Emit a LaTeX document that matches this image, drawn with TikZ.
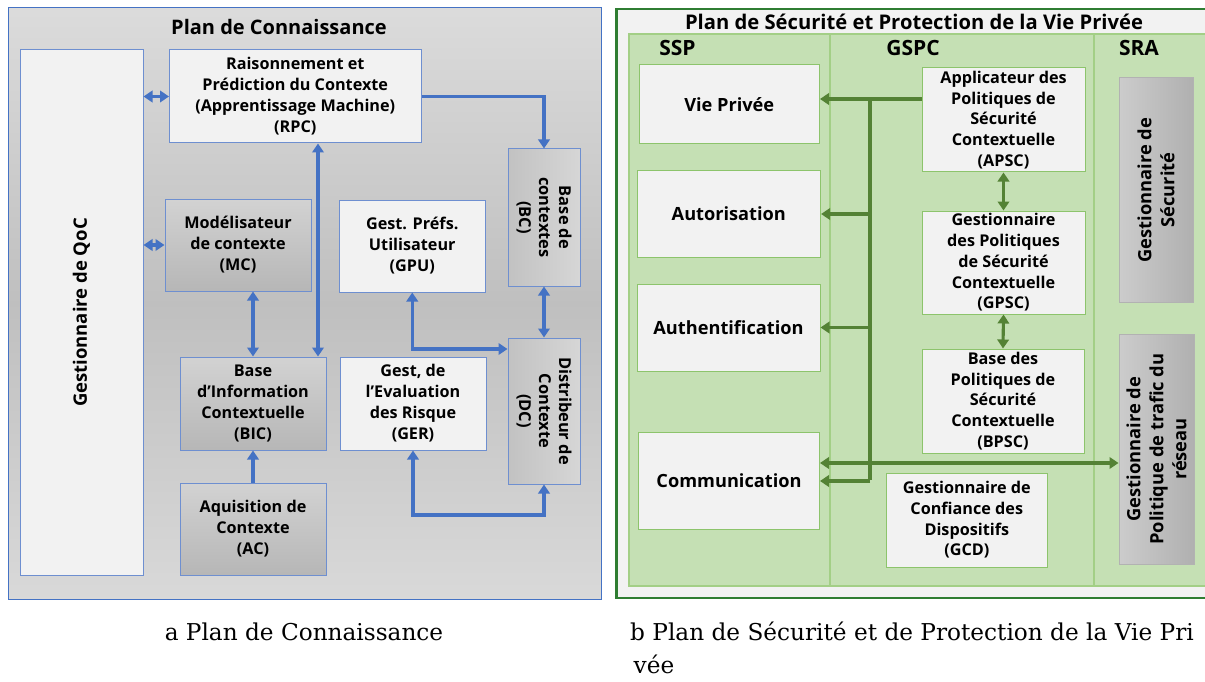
\documentclass[tikz,border=0pt]{standalone}
\usepackage{fontspec}
\newfontfamily\uifont{Open Sans}
\newfontfamily\capfont{DejaVu Serif}
\usetikzlibrary{arrows.meta}
\definecolor{arrblue}{HTML}{4472C4}
\definecolor{bbord}{HTML}{6E8FD0}
\definecolor{boxw}{HTML}{F2F2F2}
\definecolor{ggreen}{HTML}{548235}
\definecolor{gfill}{HTML}{C5E0B4}
\definecolor{gline}{HTML}{A3CF86}
\definecolor{gbord}{HTML}{8DC46C}
\definecolor{gframe}{HTML}{2F7D32}
\begin{document}
\begin{tikzpicture}[x=1pt,y=-1pt,
  every node/.style={inner sep=0pt, align=center},
  txt/.style={font=\uifont\bfseries\fontsize{16.2}{21}\selectfont},
  rtxt/.style={font=\uifont\bfseries\fontsize{16.2}{20.7}\selectfont},
  bigtxt/.style={font=\uifont\bfseries\fontsize{18.2}{22}\selectfont},
  hdr/.style={font=\uifont\bfseries\fontsize{21}{24}\selectfont},
  captxt/.style={font=\capfont\fontsize{23.2}{28}\selectfont},
  wbox/.style={draw=bbord, line width=1pt, fill=boxw},
  gbox/.style={draw=bbord, line width=1pt, top color=gray!35!white, bottom color=gray!57!white},
  hbox/.style={draw=bbord, line width=1pt, left color=gray!48!white, right color=gray!32!white},
  gwbox/.style={draw=gbord, line width=1pt, fill=boxw},
  sgbox/.style={draw=gray!60, line width=1pt, left color=gray!40!white, right color=gray!62!white},
  bar/.style={draw=arrblue, line width=3.1pt, -{Triangle[length=9pt,width=11.5pt]}},
  bdar/.style={draw=arrblue, line width=3.1pt, {Triangle[length=9pt,width=11.5pt]}-{Triangle[length=9pt,width=11.5pt]}},
  gar/.style={draw=ggreen, line width=3.1pt, -{Triangle[length=9pt,width=11.5pt]}},
  gdar/.style={draw=ggreen, line width=3.1pt, {Triangle[length=9pt,width=11.5pt]}-{Triangle[length=9pt,width=11.5pt]}},
  gl/.style={draw=ggreen, line width=3.1pt}
]
\useasboundingbox (0,0) rectangle (1205,682);
\fill[white] (0,0) rectangle (1205,682);

% ---------------- Left panel ----------------
\shade[top color=gray!28!white, bottom color=gray!30!white, middle color=gray!50!white] (8,8) rectangle (601,599);
\draw[draw=arrblue, line width=1pt] (8,8) rectangle (601,599);
\node[font=\uifont\bfseries\fontsize{20}{24}\selectfont] (t1) at (279,27) {Plan de Connaissance};

\node[wbox, minimum width=123, minimum height=525] (QoC) at (81.5,312.5) {};
\node[rotate=90, font=\uifont\bfseries\fontsize{18.5}{22}\selectfont] (QoCt) at (QoC.center) {Gestionnaire de QoC};

\node[wbox, txt, minimum width=251.5, minimum height=93] (RPC) at (295.25,96.5) {Raisonnement et\\Prédiction du Contexte\\(Apprentissage Machine)\\(RPC)};
\node[gbox, txt, minimum width=146, minimum height=92] (MC) at (238,245) {Modélisateur\\de contexte\\(MC)};
\node[wbox, txt, minimum width=145.5, minimum height=92] (GPU) at (412.25,246) {Gest. Préfs.\\Utilisateur\\(GPU)};
\node[hbox, minimum width=72, minimum height=137] (BC) at (544,217.5) {};
\node[rotate=-90, font=\uifont\bfseries\fontsize{16.4}{20}\selectfont] (BCt) at (BC.center) {Base de\\contextes\\(BC)};
\node[gbox, txt, minimum width=146, minimum height=93] (BIC) at (253,403.5) {Base\\d’Information\\Contextuelle\\(BIC)};
\node[gbox, txt, minimum width=146, minimum height=92] (AC) at (253,529) {Aquisition de\\Contexte\\(AC)};
\node[wbox, txt, minimum width=146, minimum height=93] (GER) at (413,403.5) {Gest, de\\l’Evaluation\\des Risque\\(GER)};
\node[hbox, minimum width=72, minimum height=146] (DC) at (544,411) {};
\node[rotate=-90, font=\uifont\bfseries\fontsize{16.4}{20}\selectfont] (DCt) at (DC.center) {Distribeur de\\Contexte\\(DC)};

\draw[bdar] (QoC.east |- RPC.west) -- (RPC.west);
\draw[bdar] (QoC.east |- MC.west) -- (MC.west);
\draw[bar] (RPC.east) -| (BC.north);
\coordinate (rb) at (318,0);
\draw[bdar] (rb |- RPC.south) -- (rb |- BIC.north);
\draw[bdar] (BIC.north |- MC.south) -- (BIC.north);
\draw[bar] (AC.north) -- (BIC.south);
\draw[bdar] (BC.south) -- (DC.north);
\coordinate (gd) at (0,349);
\draw[bdar] (GPU.south) |- (DC.west |- gd);
\coordinate (ge) at (0,515);
\draw[bdar] (GER.south) |- (DC.south |- ge) -- (DC.south);

% ---------------- Right panel ----------------
\draw[draw=gframe, line width=2.2pt, fill=boxw] (616.5,9) rectangle (1220,598);
\node[font=\uifont\bfseries\fontsize{20.2}{24}\selectfont] (t2) at (914,22) {Plan de Sécurité et Protection de la Vie Privée};
\draw[draw=gline, line width=1.2pt, fill=gfill] (629,34) rectangle (1220,586);
\draw[draw=gline, line width=1.2pt] (830,34) -- (830,586);
\draw[draw=gline, line width=1.2pt] (1094,34) -- (1094,586);
\node[hdr] (hSSP) at (677.5,48) {SSP};
\node[hdr] (hGSPC) at (913,48) {GSPC};
\node[hdr] (hSRA) at (1139,48) {SRA};

\node[gwbox, bigtxt, minimum width=180.5, minimum height=79] (VP) at (729.25,104.5) {Vie Privée};
\node[gwbox, bigtxt, minimum width=183.6, minimum height=86] (AUT) at (728.8,214) {Autorisation};
\node[gwbox, bigtxt, minimum width=183, minimum height=87] (AUTH) at (728.5,327.5) {Authentification};
\node[gwbox, bigtxt, minimum width=181, minimum height=97] (COM) at (729,480.5) {Communication};

\node[gwbox, rtxt, minimum width=163, minimum height=104] (APSC) at (1003.5,120) {Applicateur des\\Politiques de\\Sécurité\\Contextuelle\\(APSC)};
\node[gwbox, rtxt, minimum width=163, minimum height=103] (GPSC) at (1003.5,262.5) {Gestionnaire\\des Politiques\\de Sécurité\\Contextuelle\\(GPSC)};
\node[gwbox, rtxt, minimum width=162, minimum height=104] (BPSC) at (1003,401) {Base des\\Politiques de\\Sécurité\\Contextuelle\\(BPSC)};
\node[gwbox, rtxt, minimum width=161.6, minimum height=94] (GCD) at (966.8,520) {Gestionnaire de\\Confiance des\\Dispositifs\\(GCD)};

\node[sgbox, minimum width=74, minimum height=224] (GS) at (1156,190) {};
\node[rotate=90, font=\uifont\bfseries\fontsize{18.3}{23}\selectfont] (GSt) at (GS.center) {Gestionnaire de\\Sécurité};
\node[sgbox, minimum width=75, minimum height=230] (GPTR) at (1156.5,449) {};
\node[rotate=90, font=\uifont\bfseries\fontsize{18.3}{23}\selectfont] (GPTRt) at (GPTR.center) {Gestionnaire de\\Politique de trafic du\\réseau};

\coordinate (bt) at (870,99);
\coordinate (bb) at (870,481);
\coordinate (cl) at (0,463);
\draw[gl] (APSC.west |- bt) -- (bt);
\draw[gar] (bt) -- (VP.east |- bt);
\draw[gl] ([yshift=-1.5pt]bt) -- ([yshift=1.5pt]bb);
\draw[gar] (bt |- AUT.east) -- (AUT.east);
\draw[gar] (bt |- AUTH.east) -- (AUTH.east);
\draw[gar] (bb) -- (COM.east |- bb);
\draw[gdar] (COM.east |- cl) -- (GPTR.west |- cl);
\draw[gdar] (APSC.south) -- (GPSC.north);
\draw[gdar] (GPSC.south) -- (BPSC.north);

% ---------------- Captions ----------------
\node[captxt] (capa) at (304,632) {a Plan de Connaissance};
\node[captxt, anchor=base west] (capb) at (630,640) {b Plan de Sécurité et de Protection de la Vie Pri};
\node[captxt, anchor=base west] (capc) at (633.5,673) {vée};
\end{tikzpicture}
\end{document}
